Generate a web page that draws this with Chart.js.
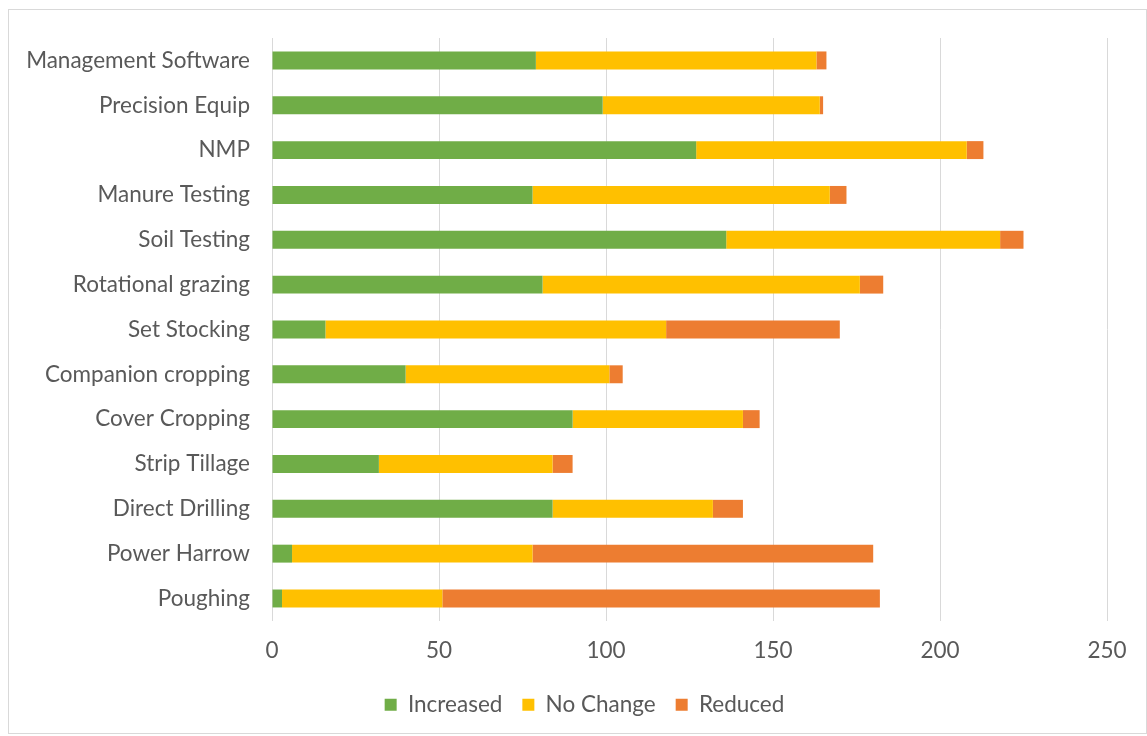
<!DOCTYPE html>
<html>
<head>
<meta charset="utf-8">
<script src="https://cdn.jsdelivr.net/npm/chart.js@4.4.0/dist/chart.umd.min.js"></script>
<style>
  html, body { margin: 0; padding: 0; background: #fff; }
  #wrap { width: 1147px; height: 736px; }
</style>
</head>
<body>
<div id="wrap"><canvas id="chart-one" width="1147" height="736"></canvas></div>
<script>
// categories, top to bottom
var practices = ["Management Software", "Precision Equip", "NMP", "Manure Testing", "Soil Testing",
  "Rotational grazing", "Set Stocking", "Companion cropping", "Cover Cropping", "Strip Tillage",
  "Direct Drilling", "Power Harrow", "Poughing"];

var increased = [79, 99, 127, 78, 136, 81, 16, 40, 90, 32, 84, 6, 3];
var noChange  = [84, 65, 81, 89, 82, 95, 102, 61, 51, 52, 48, 72, 48];
var reduced   = [3, 1, 5, 5, 7, 7, 52, 4, 5, 6, 9, 102, 131];

var xTicks = [0, 50, 100, 150, 200, 250];

// outer frame like the excel chart
var frame = {
  id: "frame",
  beforeDraw: function (chart) {
    var c = chart.ctx;
    c.save();
    c.strokeStyle = "#d9d9d9";
    c.lineWidth = 1;
    c.strokeRect(8.5, 9.5, chart.width - 9, chart.height - 12);
    c.restore();
  }
};

// excel centres the legend on the whole frame, nudge it right a bit
var legendShift = {
  id: "legendShift",
  afterLayout: function (chart) {
    chart.legend.left += 25;
    chart.legend.right += 25;
  }
};

Chart.defaults.font.family = "Lato, 'Open Sans', sans-serif";
Chart.defaults.color = "#595959";

new Chart("chart-one", {
  type: "bar",
  data: {
    labels: practices,
    datasets: [
      { label: "Increased", data: increased, backgroundColor: "#70AD47" },
      { label: "No Change", data: noChange, backgroundColor: "#FFC000" },
      { label: "Reduced", data: reduced, backgroundColor: "#ED7D31" }
    ]
  },
  options: {
    indexAxis: "y",
    responsive: false,
    animation: false,
    categoryPercentage: 1,
    barPercentage: 0.4,
    layout: { padding: { top: 38, right: 40, bottom: 10, left: 12 } },
    scales: {
      x: {
        stacked: true,
        min: 0,
        max: 250,
        afterBuildTicks: function (axis) {
          axis.ticks = xTicks.map(function (v) { return { value: v }; });
        },
        afterFit: function (axis) { axis.height = 52.6; },
        grid: { color: "#d9d9d9", lineWidth: 1, drawTicks: false },
        border: { display: false },
        ticks: { padding: 16, font: { size: 22.5 }, color: "#595959" }
      },
      y: {
        stacked: true,
        afterFit: function (axis) { axis.width = 260; },
        grid: { display: false, drawTicks: false },
        border: { display: false },
        ticks: { padding: 22, font: { size: 22.5 }, color: "#595959" }
      }
    },
    plugins: {
      legend: {
        position: "bottom",
        labels: {
          boxWidth: 12,
          boxHeight: 12,
          padding: 20,
          font: { size: 22.5 },
          color: "#595959"
        }
      },
      tooltip: { enabled: false }
    }
  },
  plugins: [frame, legendShift]
});
</script>
</body>
</html>
